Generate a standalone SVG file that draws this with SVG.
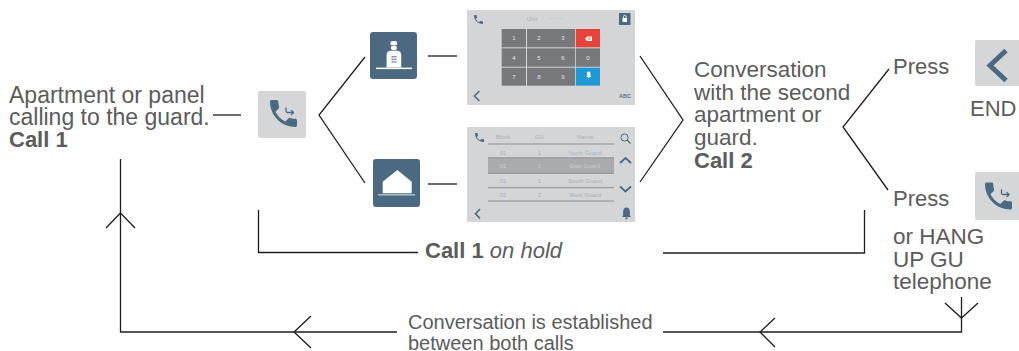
<svg xmlns="http://www.w3.org/2000/svg" width="1019" height="351" viewBox="0 0 1019 351">
<style>
  .t { font-family: "Liberation Sans", Arial, sans-serif; fill: #5c5c5c; }
  .b { font-weight: bold; }
  .i { font-style: italic; }
  .ln { fill: none; stroke: #1e1e1e; stroke-width: 1.3; }
  .ico { fill: #4b6a82; }
  .icos { fill: none; stroke: #4b6a82; }
  .btn { fill: #d5d6d8; }
  .scr { fill: #d4d5d7; }
  .key { fill: #76787c; }
  .kd { font-family: "Liberation Sans", Arial, sans-serif; font-size: 6px; fill: #e3e5e7; text-anchor: middle; }
  .lt { font-family: "Liberation Sans", Arial, sans-serif; font-size: 6px; fill: #a3b1be; text-anchor: middle; }
  .hl { fill: #c6ced5; }
  .sep { stroke: #8d9093; stroke-width: 1; }
</style>
<defs>
  <path id="handset" d="M6.62 10.79c1.44 2.83 3.76 5.14 6.59 6.590l2.2-2.2c.27-.27.67-.36 1.02-.24 1.12.37 2.33.57 3.57.57.55 0 1 .45 1 1V20c0 .55-.45 1-1 1-9.39 0-17-7.61-17-17 0-.55.45-1 1-1h3.5c.55 0 1 .45 1 1 0 1.25.2 2.45.57 3.570.11.35.03.74-.25 1.02l-2.2 2.2z"/>
  <g id="transfer" fill="none" stroke="#4b6a82" stroke-width="1.3" stroke-linecap="round" stroke-linejoin="round">
    <path d="M0,0 v3 a1.5 1.5 0 0 0 1.5 1.5 h6"/>
    <path d="M5.5,2.5 l2,2 l-2,2"/>
  </g>
</defs>

<!-- connectors -->
<g id="connectors" class="ln">
  <line x1="213" y1="115" x2="241" y2="115"/>
  <polyline points="365,57 319,115 365,183"/>
  <line x1="428" y1="56" x2="457" y2="56"/>
  <line x1="428" y1="184" x2="457" y2="184"/>
  <polyline points="640,56 683,120 640,182"/>
  <polyline points="889,69 843,127 888,190"/>
  <polyline points="258.5,210 258.5,252.5 418,252.5"/>
  <polyline points="663,253 864.5,253 864.5,210"/>
  <polyline points="961.5,297 961.5,332 663,332"/>
  <polyline points="397,332 120.5,332 120.5,159"/>
  <polyline points="945,303 961.5,318 978,303"/>
  <polyline points="775,318 760,332 775,347"/>
  <polyline points="311,316 294,332 311,348"/>
  <polyline points="106,228 120.5,213 135,228"/>
</g>

<!-- caller description -->
<g id="caller">
  <text class="t" x="9" y="102.5" font-size="23">Apartment or panel</text>
  <text class="t" x="9" y="124.5" font-size="23">calling to the guard.</text>
  <text class="t b" x="9" y="146.5" font-size="22">Call 1</text>
</g>

<!-- transfer call button -->
<g id="transfer-button">
  <rect class="btn" x="258" y="91" width="48" height="47" rx="2"/>
  <use href="#handset" class="ico" transform="translate(265.5,95.5) scale(1.5)"/>
  <use href="#transfer" x="286" y="108"/>
</g>

<!-- guard icon -->
<g id="guard">
  <rect class="ico" x="370" y="32" width="47" height="47" rx="3"/>
  <path fill="#fff" d="M390.5,45 h6.6 v-2.6 c0,-1 -1,-1.5 -3.3,-1.5 c-2.3,0 -3.3,0.5 -3.3,1.5z"/>
  <rect fill="#fff" x="391" y="45.6" width="5.8" height="4.6" rx="2"/>
  <path fill="#fff" d="M386.6,67.6 v-12.8 c0,-2.5 2,-4 4,-4 h6.6 c2,0 4,1.5 4,4 v12.8 z"/>
  <g class="ico">
    <rect x="391.6" y="56" width="1.2" height="1.4"/>
    <rect x="393.4" y="56" width="1.2" height="1.4"/>
    <rect x="395.2" y="56" width="1.2" height="1.4"/>
    <rect x="391.6" y="58.6" width="1.2" height="1.4"/>
    <rect x="393.4" y="58.6" width="1.2" height="1.4"/>
    <rect x="395.2" y="58.6" width="1.2" height="1.4"/>
    <rect x="391.6" y="61.2" width="1.2" height="1.4"/>
    <rect x="393.4" y="61.2" width="1.2" height="1.4"/>
    <rect x="395.2" y="61.2" width="1.2" height="1.4"/>
  </g>
  <rect fill="#fff" x="376" y="67.6" width="36" height="1.5"/>
</g>

<!-- apartment icon -->
<g id="apartment">
  <rect class="ico" x="373" y="159" width="47" height="48" rx="3"/>
  <polygon fill="#fff" points="382.7,193.3 382.7,181.7 397.3,170 411.7,181.7 411.7,193.3"/>
  <rect fill="#a9b9c5" x="378" y="194" width="37" height="1.6"/>
</g>

<!-- keypad screen -->
<g id="keypad-screen">
  <rect class="scr" x="467" y="10" width="168" height="95"/>
  <use href="#handset" class="ico" transform="translate(472.5,13.5) scale(0.5)"/>
  <text class="lt" x="532" y="20.5" font-size="6.5">Unit</text>
  <text class="lt" x="556" y="19.5">- - - -</text>
  <rect class="ico" x="619" y="13" width="11.5" height="12"/>
  <rect fill="#fff" x="622.5" y="18" width="4.5" height="4"/>
  <path d="M623.5,18 v-1.3 a1.3,1.3 0 0 1 2.6,0 v1.3" fill="none" stroke="#fff" stroke-width="0.8"/>
  <g class="key">
    <rect x="501.7" y="29" width="24.3" height="18.3"/>
    <rect x="527" y="29" width="48" height="18.3"/>
    <rect x="501.7" y="48.3" width="24.3" height="18.4"/>
    <rect x="527" y="48.3" width="48" height="18.4"/>
    <rect x="575.8" y="48.3" width="24.2" height="18.4"/>
    <rect x="501.7" y="67.7" width="24.3" height="18"/>
    <rect x="527" y="67.7" width="48" height="18"/>
  </g>
  <rect fill="#e8433b" x="575.8" y="29" width="24.2" height="18.3"/>
  <rect fill="#1d9ad6" x="575.8" y="67.7" width="24.2" height="18"/>
  <path fill="#fff" d="M585,38.7 l2,-2.2 h5 v4.4 h-5z"/>
  <path d="M588.3,37.5 l2,2.4 M590.3,37.5 l-2,2.4" stroke="#e8433b" stroke-width="0.7"/>
  <path fill="#fff" d="M588.7,71.6 c-1.3,0 -1.8,1 -1.8,2.3 v2 l-0.6,1 h4.8 l-0.6,-1 v-2 c0,-1.3 -0.5,-2.3 -1.8,-2.3z"/>
  <circle fill="#fff" cx="588.7" cy="77.6" r="0.7"/>
  <text class="kd" x="514" y="40">1</text>
  <text class="kd" x="539" y="40">2</text>
  <text class="kd" x="563" y="40">3</text>
  <text class="kd" x="514" y="59.5">4</text>
  <text class="kd" x="539" y="59.5">5</text>
  <text class="kd" x="563" y="59.5">6</text>
  <text class="kd" x="588" y="59.5">0</text>
  <text class="kd" x="514" y="78.7">7</text>
  <text class="kd" x="539" y="78.7">8</text>
  <text class="kd" x="563" y="78.7">9</text>
  <polyline class="icos" stroke-width="1.6" points="479.3,91 474.5,96 479.3,101"/>
  <text x="625" y="97.5" font-family="Liberation Sans, Arial, sans-serif" font-size="5.5" font-weight="bold" fill="#62707c" text-anchor="middle">ABC</text>
</g>

<!-- guard list screen -->
<g id="list-screen">
  <rect class="scr" x="467" y="127" width="168" height="95"/>
  <use href="#handset" class="ico" transform="translate(473.5,131.5) scale(0.5)"/>
  <rect fill="#a9abae" x="488" y="158" width="126" height="15.3"/>
  <text class="lt" x="503" y="139">Block</text>
  <text class="lt" x="539.5" y="139">GU</text>
  <text class="lt" x="585" y="139">Name</text>
  <line class="sep" x1="488" y1="144" x2="614" y2="144"/>
  <text class="lt" x="503" y="154.5">01</text>
  <text class="lt" x="539.5" y="154.5">1</text>
  <text class="lt" x="585" y="154.5">North Guard</text>
  <line class="sep" x1="488" y1="157.8" x2="614" y2="157.8"/>
  <text class="lt hl" x="503" y="167.5">01</text>
  <text class="lt hl" x="539.5" y="167.5">2</text>
  <text class="lt hl" x="585" y="167.5">East Guard</text>
  <line class="sep" x1="488" y1="173.3" x2="614" y2="173.3"/>
  <text class="lt" x="503" y="182.7">02</text>
  <text class="lt" x="539.5" y="182.7">1</text>
  <text class="lt" x="585" y="182.7">South Guard</text>
  <line class="sep" x1="488" y1="187.7" x2="614" y2="187.7"/>
  <text class="lt" x="503" y="196.7">02</text>
  <text class="lt" x="539.5" y="196.7">2</text>
  <text class="lt" x="585" y="196.7">West Guard</text>
  <line class="sep" x1="488" y1="201" x2="614" y2="201"/>
  <circle class="icos" cx="624.5" cy="137.5" r="3.6" stroke-width="1"/>
  <line class="icos" x1="627" y1="140" x2="630.5" y2="143.5" stroke-width="1.1"/>
  <polyline class="icos" stroke-width="1.8" points="620,163 625.5,158 631,163"/>
  <polyline class="icos" stroke-width="1.8" points="620,186.5 625.5,191.5 631,186.5"/>
  <path class="ico" d="M626.5,207.5 c-2.4,0 -3.4,2 -3.4,4.4 v3.6 l-1.1,1.6 h9 l-1.1,-1.6 v-3.6 c0,-2.4 -1,-4.4 -3.4,-4.4z"/>
  <circle class="ico" cx="626.5" cy="218.3" r="1.1"/>
  <polyline class="icos" stroke-width="1.6" points="480,209 475.5,213.7 480,218.4"/>
</g>

<!-- second call description -->
<g id="call2">
  <text class="t" x="694" y="77" font-size="22.5">Conversation</text>
  <text class="t" x="694" y="99.5" font-size="22.5">with the second</text>
  <text class="t" x="694" y="122" font-size="22.5">apartment or</text>
  <text class="t" x="694" y="144.5" font-size="22.5">guard.</text>
  <text class="t b" x="694" y="168" font-size="22">Call 2</text>
</g>

<!-- end option -->
<g id="end-option">
  <text class="t" x="893" y="73.5" font-size="22">Press</text>
  <rect class="btn" x="975" y="40" width="48" height="46" rx="2"/>
  <polyline class="icos" stroke-width="5" points="1006,50.5 990,65.5 1006,80.5"/>
  <text class="t" x="970" y="116" font-size="22">END</text>
</g>

<!-- transfer option -->
<g id="transfer-option">
  <text class="t" x="893" y="206" font-size="22">Press</text>
  <rect class="btn" x="975" y="172" width="48" height="48" rx="2"/>
  <use href="#handset" class="ico" transform="translate(980.5,178) scale(1.5)"/>
  <use href="#transfer" x="1001.5" y="190"/>
  <text class="t" x="893" y="244" font-size="22.5">or HANG</text>
  <text class="t" x="893" y="266.5" font-size="22.5">UP GU</text>
  <text class="t" x="893" y="289" font-size="22.5">telephone</text>
</g>

<!-- hold label -->
<g id="hold">
  <text class="t" x="425" y="258" font-size="22"><tspan class="b">Call 1</tspan> <tspan class="i">on hold</tspan></text>
</g>

<!-- established label -->
<g id="established">
  <text class="t" x="408" y="329" font-size="20">Conversation is established</text>
  <text class="t" x="408" y="349.5" font-size="20">between both calls</text>
</g>
</svg>
